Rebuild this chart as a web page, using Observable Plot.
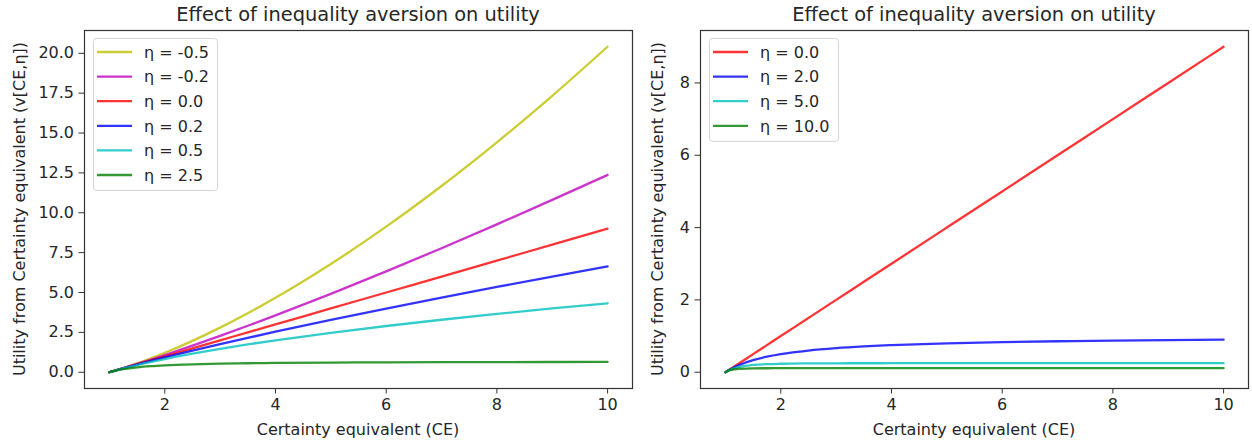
<!DOCTYPE html>
<html>
<head>
<meta charset="utf-8">
<script src="https://cdn.jsdelivr.net/npm/d3@7"></script>
<script src="https://cdn.jsdelivr.net/npm/@observablehq/plot@0.6"></script>
<style>
  html, body { margin: 0; padding: 0; background: #fff; }
  #wrap { position: relative; width: 1252px; height: 446px; font-family: "DejaVu Sans", sans-serif; overflow: hidden; }
  .panel { position: absolute; top: 0; }
  #overlay { position: absolute; left: 0; top: 0; pointer-events: none; }
</style>
</head>
<body>
<div id="wrap"></div>
<script>
// ---- data ----
const ce = [1, 1.05, 1.1, 1.25, 1.5, 1.75, 2, 2.5, 3, 3.5, 4, 5, 6, 7, 8, 9, 10];

// left panel series
const leftEtas = ["-0.5", "-0.2", "0.0", "0.2", "0.5", "2.5"];
const leftColors = ["#bfbf00", "#bf00bf", "#ff0000", "#0000ff", "#00bfbf", "#008000"];
const vEtaM05 = [0, 0.0506, 0.1025, 0.265, 0.5581, 0.8767, 1.219, 1.9685, 2.7975, 3.6986, 4.6667, 6.7869, 9.1313, 11.6802, 14.4183, 17.3333, 20.4152];
const vEtaM02 = [0, 0.0503, 0.101, 0.2558, 0.5223, 0.7978, 1.0812, 1.6691, 2.281, 2.9136, 3.565, 4.9155, 6.3215, 7.7758, 9.2717, 10.806, 12.374];
const vEta00 = [0, 0.05, 0.1, 0.25, 0.5, 0.75, 1, 1.5, 2, 2.5, 3, 4, 5, 6, 7, 8, 9];
const vEta02 = [0, 0.0498, 0.099, 0.2443, 0.479, 0.7059, 0.9264, 1.3518, 1.7603, 2.1554, 2.5393, 3.2799, 3.9913, 4.6789, 5.3475, 5.9994, 6.637];
const vEta05 = [0, 0.0494, 0.0976, 0.2361, 0.4495, 0.6458, 0.8284, 1.1623, 1.4641, 1.7417, 2, 2.4721, 2.899, 3.2915, 3.6569, 4, 4.3246];
const vEta25 = [0, 0.047, 0.0888, 0.1897, 0.3038, 0.3787, 0.431, 0.498, 0.5384, 0.5649, 0.5833, 0.6071, 0.6213, 0.6307, 0.6372, 0.642, 0.6456];
const leftSeries = [vEtaM05, vEtaM02, vEta00, vEta02, vEta05, vEta25];
const leftYTicks = [0, 2.5, 5, 7.5, 10, 12.5, 15, 17.5, 20];

// right panel series
const rightEtas = ["0.0", "2.0", "5.0", "10.0"];
const rightColors = ["#ff0000", "#0000ff", "#00bfbf", "#008000"];
const vEta2 = [0, 0.0476, 0.0909, 0.2, 0.3333, 0.4286, 0.5, 0.6, 0.6667, 0.7143, 0.75, 0.8, 0.8333, 0.8571, 0.875, 0.8889, 0.9];
const vEta5 = [0, 0.0443, 0.0792, 0.1476, 0.2006, 0.2234, 0.2344, 0.2436, 0.2469, 0.2483, 0.249, 0.2496, 0.2498, 0.2499, 0.25, 0.25, 0.25];
const vEta10 = [0, 0.0395, 0.064, 0.0962, 0.1082, 0.1104, 0.1109, 0.1111, 0.1111, 0.1111, 0.1111, 0.1111, 0.1111, 0.1111, 0.1111, 0.1111, 0.1111];
const rightSeries = [vEta00, vEta2, vEta5, vEta10];
const rightYTicks = [0, 2, 4, 6, 8];

const xTicks = [2, 4, 6, 8, 10];
const titleText = "Effect of inequality aversion on utility";
const xLabel = "Certainty equivalent (CE)";
const yLabel = "Utility from Certainty equivalent (v[CE,η])";

// ---- drawing ----
const wrap = document.getElementById("wrap");
const textColor = "#262626";
const FS = 16;

function makePanel({left, width, mLeft, mRight, yDomain, yTicks, yFmt, series, colors}) {
  const marks = [];
  series.forEach((vals, i) => {
    const data = ce.map((x, j) => ({x, y: vals[j]}));
    marks.push(Plot.line(data, {x: "x", y: "y", stroke: colors[i], strokeOpacity: 0.8, strokeWidth: 2.3, curve: "monotone-x"}));
  });
  marks.push(Plot.frame({stroke: "#333", strokeWidth: 1.2}));
  marks.push(Plot.axisX({ticks: xTicks, tickSize: 5.5, tickPadding: 5, label: null, fontSize: FS, fill: textColor, stroke: "#333"}));
  marks.push(Plot.axisY({ticks: yTicks, tickSize: 5.5, tickPadding: 5, label: null, fontSize: FS, fill: textColor, stroke: "#333", tickFormat: yFmt}));
  const svg = Plot.plot({
    width, height: 446,
    marginLeft: mLeft, marginRight: mRight, marginTop: 30, marginBottom: 58,
    x: {domain: [0.55, 10.45]},
    y: {domain: yDomain},
    style: {fontFamily: "DejaVu Sans, sans-serif", fontSize: FS + "px", background: "transparent", overflow: "visible"},
    marks
  });
  const d = document.createElement("div");
  d.className = "panel";
  d.style.left = left + "px";
  d.appendChild(svg);
  wrap.appendChild(d);
}

makePanel({left: 0, width: 640, mLeft: 84, mRight: 8, yDomain: [-1.02, 21.43], yTicks: leftYTicks, yFmt: d3.format(".1f"), series: leftSeries, colors: leftColors});
makePanel({left: 640, width: 612, mLeft: 60, mRight: 4, yDomain: [-0.45, 9.45], yTicks: rightYTicks, yFmt: d3.format("d"), series: rightSeries, colors: rightColors});

// overlay: titles, axis labels, legends
const ov = d3.select(wrap).append("svg").attr("id", "overlay").attr("width", 1252).attr("height", 446)
  .attr("font-family", "DejaVu Sans, sans-serif").attr("fill", textColor);

[[358, 24.5], [974, 662.5]].forEach(([cx, ly]) => {
  ov.append("text").attr("x", cx).attr("y", 21).attr("text-anchor", "middle").attr("font-size", 19.4).text(titleText);
  ov.append("text").attr("x", cx).attr("y", 435).attr("text-anchor", "middle").attr("font-size", FS).text(xLabel);
  ov.append("text").attr("transform", `translate(${ly},209) rotate(-90)`).attr("text-anchor", "middle").attr("font-size", FS).text(yLabel);
});

function addLegend(x, y, w, etas, colors) {
  const g = ov.append("g").attr("transform", `translate(${x},${y})`);
  const rowH = 24.6;
  g.append("rect").attr("x", 0.5).attr("y", 0.5).attr("width", w).attr("height", 14 + rowH * (etas.length - 1) + 15 + 0)
    .attr("rx", 3).attr("fill", "white").attr("fill-opacity", 0.8).attr("stroke", "#d4d4d4").attr("stroke-width", 1);
  etas.forEach((e, i) => {
    const cy = 14 + rowH * i;
    g.append("line").attr("x1", 4).attr("x2", 39).attr("y1", cy).attr("y2", cy)
      .attr("stroke", colors[i]).attr("stroke-opacity", 0.8).attr("stroke-width", 2.3);
    g.append("text").attr("x", 51).attr("y", cy + 5.8).attr("font-size", FS).text(`η = ${e}`);
  });
}
addLegend(93, 38, 124, leftEtas, leftColors);
addLegend(709, 38, 129, rightEtas, rightColors);
</script>
</body>
</html>
